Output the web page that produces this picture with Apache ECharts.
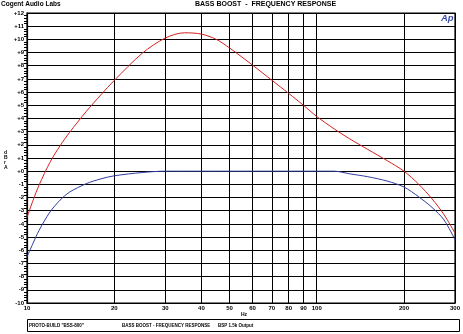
<!DOCTYPE html>
<html><head><meta charset="utf-8">
<script src="https://cdn.jsdelivr.net/npm/echarts@6/dist/echarts.min.js"></script>
<style>html,body{margin:0;padding:0;background:#fff}#c{width:463px;height:334px}</style>
</head><body><div id="c"></div>
<script>
const freqs = [10, 10.5, 11, 12, 13, 14, 16, 18, 20, 25, 30, 35, 40, 45, 50, 60, 70, 80, 90, 100, 115, 130, 150, 175, 200, 225, 250, 275, 300];
const boostDb = [-3.5, -2.2, -1.07, 0.67, 1.92, 2.92, 4.52, 5.8, 6.88, 8.95, 10.1, 10.5, 10.4, 10.0, 9.35, 8.05, 6.9, 5.9, 5.0, 4.15, 3.2, 2.45, 1.65, 0.8, 0.0, -1.0, -2.1, -3.3, -4.7];
const flatDb = [-6.5, -5.45, -4.5, -3.1, -2.2, -1.6, -0.95, -0.58, -0.35, -0.1, 0, 0, 0, 0, 0, 0, 0, 0, 0, 0, 0, -0.2, -0.42, -0.75, -1.2, -1.95, -2.75, -3.7, -5.2];
const xTicks = [10, 20, 30, 40, 50, 60, 70, 80, 90, 100, 200, 300];
const yMin = -10, yMax = 12;

const font = '"Liberation Sans", Arial, sans-serif';
const chart = echarts.init(document.getElementById('c'), null, {renderer: 'canvas'});
const pair = (ys) => freqs.map((f, i) => [f, ys[i]]);
chart.setOption({
  animation: false,
  backgroundColor: '#fff',
  grid: {left: 27, right: 4, top: 13, bottom: 31, show: true, borderColor: '#000', borderWidth: 1.2},
  xAxis: {
    type: 'log', logBase: 10, min: 10, max: 300,
    axisLine: {show: true, onZero: false, lineStyle: {color: '#000', width: 1.2}},
    splitLine: {show: false},
    minorSplitLine: {show: false},
    axisTick: {show: true, customValues: xTicks, inside: true, length: 290, lineStyle: {color: '#000', width: 1}},
    axisLabel: {show: true, customValues: xTicks, fontFamily: font, fontSize: 6, fontWeight: 'bold', color: '#000', margin: 2}
  },
  yAxis: {
    type: 'value', min: yMin, max: yMax, interval: 1,
    axisLine: {show: true, onZero: false, lineStyle: {color: '#000', width: 1.2}},
    axisTick: {show: false},
    minorTick: {show: true, splitNumber: 5, length: 3, lineStyle: {color: '#000'}},
    splitLine: {show: true, lineStyle: {color: '#000', width: 1}},
    axisLabel: {fontFamily: font, fontSize: 6, fontWeight: 'bold', color: '#000', margin: 3,
      formatter: v => (v >= 0 ? '+' + v : '' + v)}
  },
  series: [
    {type: 'line', data: pair(flatDb), smooth: 0.3, symbol: 'none', lineStyle: {color: '#2f3c9c', width: 1}, z: 3},
    {type: 'line', data: pair(boostDb), smooth: 0.3, symbol: 'none', lineStyle: {color: '#d42020', width: 1}, z: 4}
  ],
  graphic: [
    {type: 'text', left: 1, top: 1, style: {text: 'Cogent Audio Labs', font: 'bold 6.5px ' + font, fill: '#000'}},
    {type: 'text', left: 195, top: 1, style: {text: 'BASS BOOST  -  FREQUENCY RESPONSE', font: 'bold 7px ' + font, fill: '#000'}},
    {type: 'text', left: 441, top: 13, z: 10, style: {text: 'Ap', font: 'italic bold 9.5px ' + font, fill: '#3b4aa8'}},
    {type: 'text', left: 4, top: 150, style: {text: 'd\nB\nr\nA', font: 'bold 5px ' + font, lineHeight: 5, fill: '#000'}},
    {type: 'text', left: 241, top: 312, style: {text: 'Hz', font: 'bold 5px ' + font, fill: '#000'}},
    {type: 'rect', shape: {x: 27.5, y: 319.5, width: 432, height: 12}, style: {fill: 'none', stroke: '#000', lineWidth: 1}},
    {type: 'text', left: 29, top: 323, style: {text: 'PROTO-BUILD "BSS-800"', font: 'bold 4.5px ' + font, fill: '#000'}},
    {type: 'text', left: 122, top: 323, style: {text: 'BASS BOOST - FREQUENCY RESPONSE', font: 'bold 4.5px ' + font, fill: '#000'}},
    {type: 'text', left: 218, top: 323, style: {text: 'BSP 1.5k Output', font: 'bold 4.5px ' + font, fill: '#000'}}
  ]
});
</script></body></html>
